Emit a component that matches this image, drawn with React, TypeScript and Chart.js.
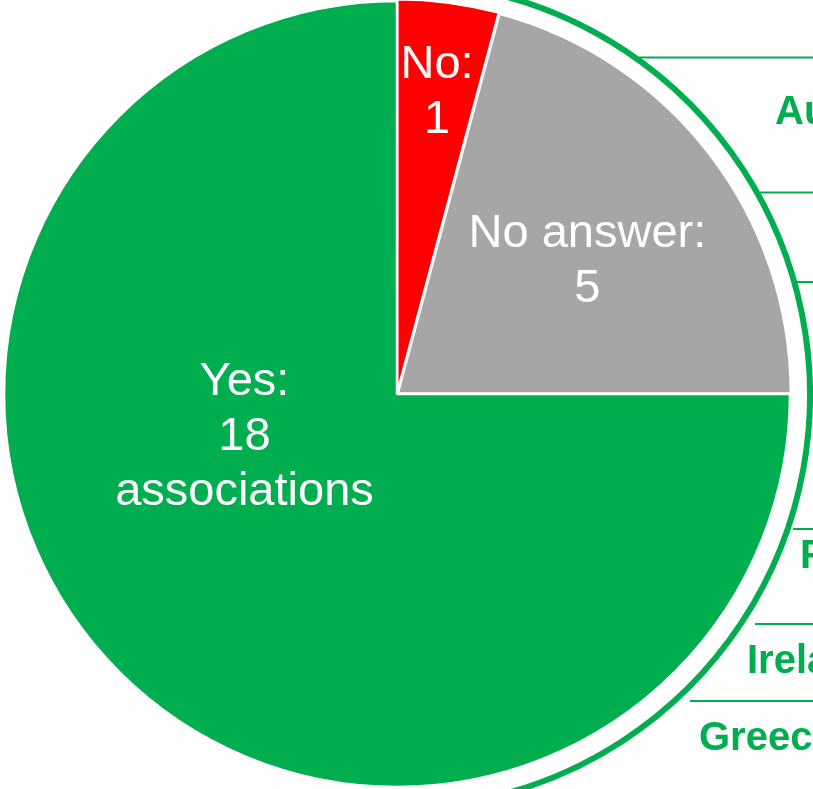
import React, { useEffect, useRef } from "react";
import { Chart, registerables } from "chart.js";

Chart.register(...registerables);

// ---- data ----
const categories = ["No", "No answer", "Yes"];
const values = [1, 5, 18];
const labelSuffix = ["", "", "associations"];
const sliceColors = ["#FF0000", "#A6A6A6", "#00AE4F"];
const countryLabels = ["Austria", "France", "Ireland", "Greece"];

// ---- layout for labels / decoration (not data) ----
const labelPlacement = [
  { angle: 7.5, frac: 0.78 },
  { angle: 54.8, frac: 0.593 },
  { angle: 254.9, frac: 0.402 },
];
const tableLines = [
  { y: 57.5, x: 639 },
  { y: 192.5, x: 760 },
  { y: 282, x: 797 },
  { y: 529, x: 793 },
  { y: 624, x: 755 },
  { y: 701, x: 690 },
];
const countryPos = [
  { x: 775, y: 124 },
  { x: 800, y: 568 },
  { x: 747, y: 673 },
  { x: 699, y: 750 },
];

const GREEN = "#00AE4F";

const decorPlugin = {
  id: "decor",
  afterDatasetsDraw(chart: any) {
    const ctx = chart.ctx as CanvasRenderingContext2D;
    const meta = chart.getDatasetMeta(0);
    const base = meta.data[2] as any;
    const cx = base.x;
    const cy = base.y;
    const R = base.outerRadius;

    ctx.save();
    // outer ring arc
    ctx.strokeStyle = GREEN;
    ctx.lineWidth = 6;
    ctx.beginPath();
    ctx.arc(cx, cy + 1, R + 20, -Math.PI / 2 - 0.2, Math.PI / 2 + 0.2);
    ctx.stroke();

    // table lines
    ctx.lineWidth = 2;
    tableLines.forEach((l) => {
      ctx.beginPath();
      ctx.moveTo(l.x, l.y);
      ctx.lineTo(chart.width + 5, l.y);
      ctx.stroke();
    });

    // country labels
    ctx.fillStyle = GREEN;
    ctx.font = "bold 40px 'Liberation Sans', Arial, sans-serif";
    ctx.textAlign = "left";
    ctx.textBaseline = "alphabetic";
    countryLabels.forEach((t, i) => {
      ctx.fillText(t, countryPos[i].x, countryPos[i].y);
    });

    // slice labels
    ctx.fillStyle = "#FFFFFF";
    ctx.font = "47px 'Liberation Sans', Arial, sans-serif";
    ctx.textAlign = "center";
    ctx.textBaseline = "middle";
    const lineH = 55;
    meta.data.forEach((_: any, i: number) => {
      const p = labelPlacement[i];
      const a = ((p.angle - 90) * Math.PI) / 180;
      const x = cx + Math.cos(a) * R * p.frac;
      const y = cy + Math.sin(a) * R * p.frac;
      const lines = [categories[i] + ":", String(values[i])];
      if (labelSuffix[i]) lines.push(labelSuffix[i]);
      const y0 = y - ((lines.length - 1) * lineH) / 2;
      lines.forEach((ln, k) => ctx.fillText(ln, x, y0 + k * lineH + 2));
    });
    ctx.restore();
  },
};

export default function App() {
  const ref = useRef<HTMLCanvasElement>(null);
  useEffect(() => {
    if (!ref.current) return;
    const chart = new Chart(ref.current, {
      type: "pie",
      data: {
        labels: categories,
        datasets: [
          {
            data: values,
            backgroundColor: sliceColors,
            borderColor: "#FFFFFF",
            borderWidth: 2.5,
            offset: [4, 4, 0],
            radius: 393,
          } as any,
        ],
      },
      options: {
        responsive: false,
        animation: false,
        layout: { padding: { left: 0, right: 19, top: 0, bottom: 1 } },
        plugins: {
          legend: { display: false },
          tooltip: { enabled: false },
        },
      },
      plugins: [decorPlugin],
    });
    return () => chart.destroy();
  }, []);
  return (
    <div style={{ position: "fixed", left: 0, top: 0, width: 813, height: 789, background: "#fff" }}>
      <canvas ref={ref} width={813} height={789} style={{ display: "block" }} />
    </div>
  );
}
